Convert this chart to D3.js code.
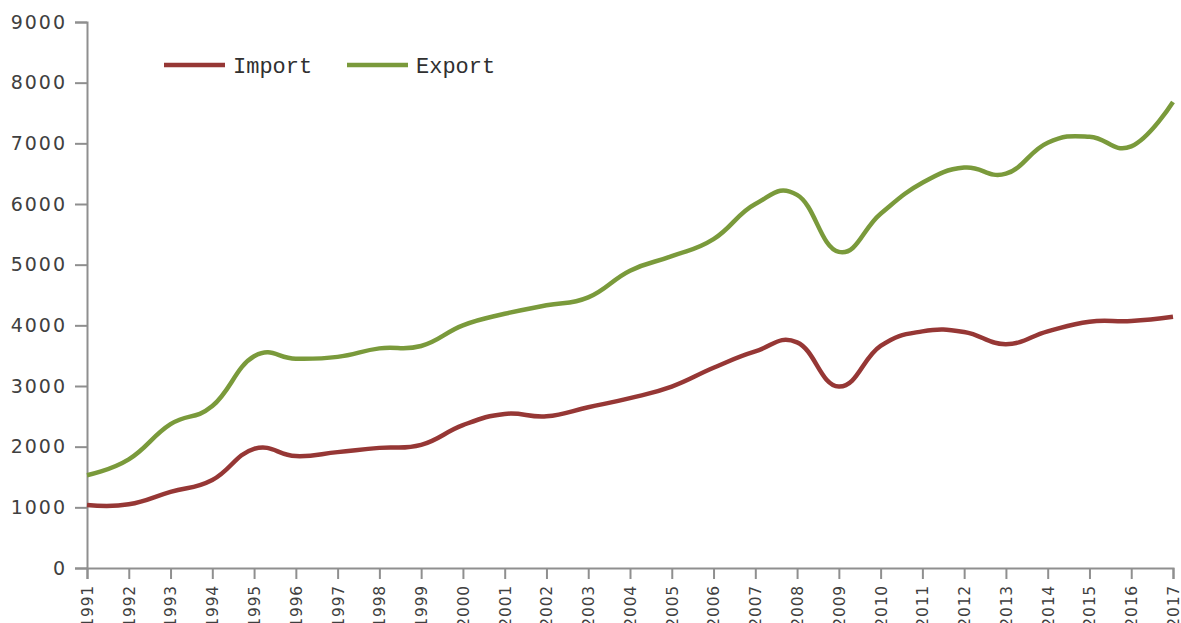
<!DOCTYPE html>
<html>
<head>
<meta charset="utf-8">
<script src="https://cdn.jsdelivr.net/npm/d3@7"></script>
<style>
  html, body { margin: 0; padding: 0; background: #fff; }
  svg { display: block; }
  .axis path, .axis line { stroke: #8f8f8f; stroke-width: 2px; }
  .yaxis text { font-family: "DejaVu Sans", sans-serif; font-size: 19px; letter-spacing: 2px; fill: #404040; }
  .xaxis text { font-family: "DejaVu Sans", sans-serif; font-size: 15.5px; letter-spacing: 0.8px; fill: #404040; }
  .legend text { font-family: "Liberation Mono", "Courier New", monospace; font-size: 22px; fill: #303030; }
</style>
</head>
<body>
<svg id="chart" width="1181" height="623"></svg>
<script>
// Annual trade values, 1991–2017
const years = [1991, 1992, 1993, 1994, 1995, 1996, 1997, 1998, 1999, 2000,
               2001, 2002, 2003, 2004, 2005, 2006, 2007, 2008, 2009, 2010,
               2011, 2012, 2013, 2014, 2015, 2016, 2017];

const importValues = [1040, 1050, 1255, 1450, 1965, 1845, 1910, 1980, 2030, 2355,
                      2540, 2500, 2650, 2800, 2990, 3300, 3570, 3720, 2990, 3660,
                      3900, 3890, 3690, 3900, 4060, 4070, 4140];

const exportValues = [1530, 1790, 2370, 2670, 3490, 3450, 3480, 3620, 3660, 4000,
                      4190, 4330, 4460, 4900, 5140, 5420, 6000, 6150, 5210, 5840,
                      6350, 6600, 6500, 7010, 7110, 6950, 7680];

const yTicks = [0, 1000, 2000, 3000, 4000, 5000, 6000, 7000, 8000, 9000];

const seriesNames = ["Import", "Export"];
const seriesColors = ["#963735", "#7a9a3b"];

const width = 1181, height = 623;
const margin = { top: 22, right: 8, bottom: 55, left: 87 };

const svg = d3.select("#chart");

const x = d3.scaleLinear()
  .domain([years[0], years[years.length - 1]])
  .range([margin.left, width - margin.right]);

const y = d3.scaleLinear()
  .domain([0, 9000])
  .range([height - margin.bottom, margin.top]);

// Y axis
svg.append("g")
  .attr("class", "axis yaxis")
  .attr("transform", `translate(${margin.left},0)`)
  .call(d3.axisLeft(y).tickValues(yTicks).tickFormat(d3.format("d")).tickSize(12).tickPadding(8));

// X axis with vertical year labels
const xg = svg.append("g")
  .attr("class", "axis xaxis")
  .attr("transform", `translate(0,${height - margin.bottom})`)
  .call(d3.axisBottom(x).tickValues(years).tickFormat(d3.format("d")).tickSize(11));

xg.selectAll("text")
  .attr("transform", "rotate(-90)")
  .attr("text-anchor", "end")
  .attr("x", -17)
  .attr("y", 0)
  .attr("dy", "0.35em");

// Smoothed series lines (slightly loose cardinal spline)
const line = d3.line()
  .x(d => x(d[0]))
  .y(d => y(d[1]))
  .curve(d3.curveCardinal.tension(-0.3));

const series = [importValues, exportValues];
series.forEach((vals, i) => {
  svg.append("path")
    .datum(years.map((yr, j) => [yr, vals[j]]))
    .attr("fill", "none")
    .attr("stroke", seriesColors[i])
    .attr("stroke-width", 4.5)
    .attr("stroke-linejoin", "round")
    .attr("d", line);
});

// Legend
const legend = svg.append("g").attr("class", "legend");
const legendX = [164, 347];
seriesNames.forEach((name, i) => {
  legend.append("line")
    .attr("x1", legendX[i]).attr("x2", legendX[i] + 61)
    .attr("y1", 65).attr("y2", 65)
    .attr("stroke", seriesColors[i])
    .attr("stroke-width", 4.5);
  legend.append("text")
    .attr("x", legendX[i] + 69)
    .attr("y", 73)
    .text(name);
});
</script>
</body>
</html>
